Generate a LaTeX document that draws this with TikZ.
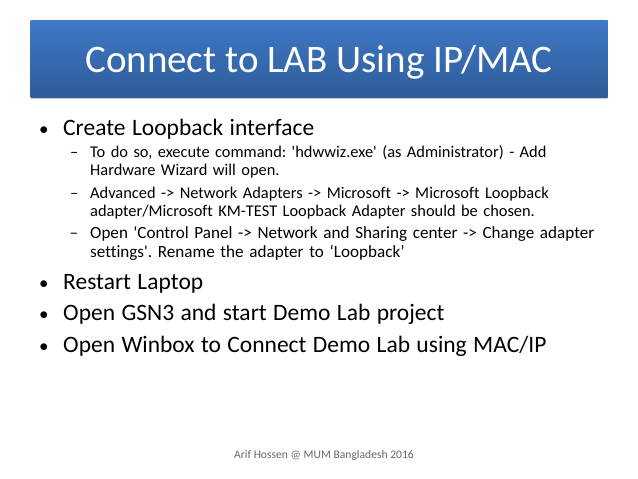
\documentclass[tikz,border=0pt]{standalone}
\usepackage{fontspec}
\setmainfont[Ligatures={TeXOff,NoCommon}]{Carlito}
\usetikzlibrary{positioning,shadows}
\definecolor{bannertop}{RGB}{62,121,199}
\definecolor{bannerbot}{RGB}{47,92,153}
\newcommand{\bulletmark}{\llap{\fontsize{19}{19}\selectfont •\hspace{14.5pt}}}
\newcommand{\dashmark}{\llap{–\hspace{12pt}}}
\begin{document}
\begin{tikzpicture}[x=1pt, y=-1pt, node distance=3.5pt]
% Define styles
\tikzstyle{banner} = [rectangle, minimum width=577pt, minimum height=77pt, text height=27pt, text depth=0pt, top color=bannertop, bottom color=bannerbot, drop shadow={shadow xshift=0pt, shadow yshift=-2pt, opacity=0.4}, text=white, font=\fontsize{39}{43}\selectfont]
\tikzstyle{mainitem} = [rectangle, inner sep=0pt, text width=540pt, align=left, font=\fontsize{23.5}{27}\selectfont, execute at begin node={\spaceskip 6.4pt\relax\strut}]
\tikzstyle{subitem} = [rectangle, inner sep=0pt, text width=513pt, align=left, font=\fontsize{16.4}{18.5}\selectfont, execute at begin node={\frenchspacing\strut}, execute at end node=\strut]
\tikzstyle{footer} = [inner sep=0pt, text=black!60, font=\fontsize{11.6}{13}\selectfont]

\useasboundingbox (0,0) rectangle (638,479);

% Create nodes
\node (title) [banner] at (319,58.5) {Connect to LAB Using IP/MAC};

\node (create) [mainitem, anchor=base west] at (63,135) {\bulletmark Create Loopback interface};
\node (wizard) [subitem, anchor=north west] at (90,144) {\dashmark To do so, execute command: 'hdwwiz.exe' (as Administrator) - Add\\Hardware Wizard will open.};
\node (adapter) [subitem, below=of wizard] {\dashmark Advanced -> Network Adapters -> Microsoft -> Microsoft Loopback\\adapter/Microsoft KM-TEST Loopback Adapter should be chosen.};
\node (panel) [subitem, below=of adapter, font=\fontsize{17.1}{18.5}\selectfont] {\dashmark Open 'Control Panel -> Network and Sharing center -> Change adapter\\settings'. Rename the adapter to ‘Loopback’};

\node (restart) [mainitem, anchor=base west] at (63,289) {\bulletmark Restart Laptop};
\node (gsn) [mainitem, below=4.5pt of restart] {\bulletmark Open GSN3 and start Demo Lab project};
\node (winbox) [mainitem, below=4.5pt of gsn] {\bulletmark Open Winbox to Connect Demo Lab using MAC/IP};

\node (credit) [footer] at (324,455) {Arif Hossen @ MUM Bangladesh 2016};
\end{tikzpicture}
\end{document}
